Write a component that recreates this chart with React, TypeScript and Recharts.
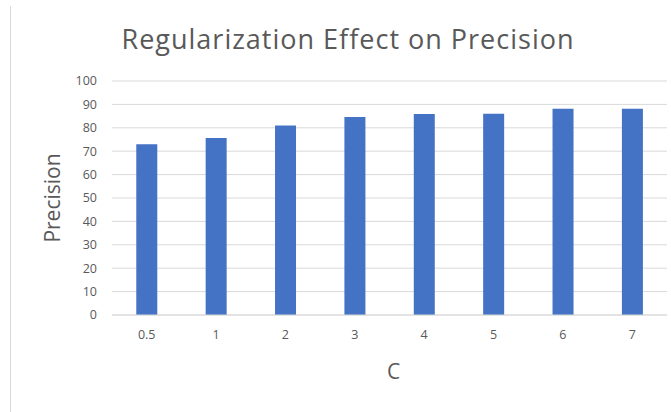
import { BarChart, Bar, XAxis, YAxis, CartesianGrid } from 'recharts';

const categories = ['0.5', '1', '2', '3', '4', '5', '6', '7'];
const precision = [73, 75.6, 81, 84.6, 85.9, 86, 88.1, 88.1];
const yTicks = [0, 10, 20, 30, 40, 50, 60, 70, 80, 90, 100];

const data = categories.map((c, i) => ({ c, precision: precision[i] }));

const font = '"Open Sans", sans-serif';
const textColor = '#595959';

export default function App() {
  return (
    <div style={{ position: 'absolute', left: 0, top: 0, width: 671, height: 412, background: '#fff', fontFamily: font }}>
      {/* frame edge on the left */}
      <div style={{ position: 'absolute', left: 10, top: 6, width: 1, height: 406, background: '#d9d9d9' }} />
      <div
        style={{
          position: 'absolute',
          left: 0,
          width: 696,
          top: 21,
          textAlign: 'center',
          fontSize: 27,
          letterSpacing: 1,
          color: textColor,
          lineHeight: '36px',
        }}
      >
        Regularization Effect on Precision
      </div>
      <BarChart
        width={671}
        height={412}
        data={data}
        margin={{ top: 81, right: 4, bottom: 0, left: 0 }}
        barCategoryGap="35%"
      >
        <CartesianGrid vertical={false} stroke="#d9d9d9" />
        <XAxis
          dataKey="c"
          height={97}
          tick={{ fill: textColor, fontSize: 12.5, fontFamily: font }}
          axisLine={{ stroke: '#d9d9d9' }}
          tickLine={false}
          tickSize={0}
          tickMargin={15}
          label={{ value: 'C', position: 'insideBottom', offset: 33, fill: textColor, fontSize: 21, fontFamily: font, dx: 4 }}
        />
        <YAxis
          width={112}
          domain={[0, 100]}
          ticks={yTicks}
          interval={0}
          tick={{ fill: textColor, fontSize: 12.5, fontFamily: font }}
          axisLine={false}
          tickLine={false}
          tickSize={0}
          tickMargin={15}
          label={{ value: 'Precision', angle: -90, position: 'center', dx: -3, fill: textColor, fontSize: 21, fontFamily: font }}
        />
        <Bar dataKey="precision" fill="#4472C4" isAnimationActive={false} />
      </BarChart>
    </div>
  );
}
